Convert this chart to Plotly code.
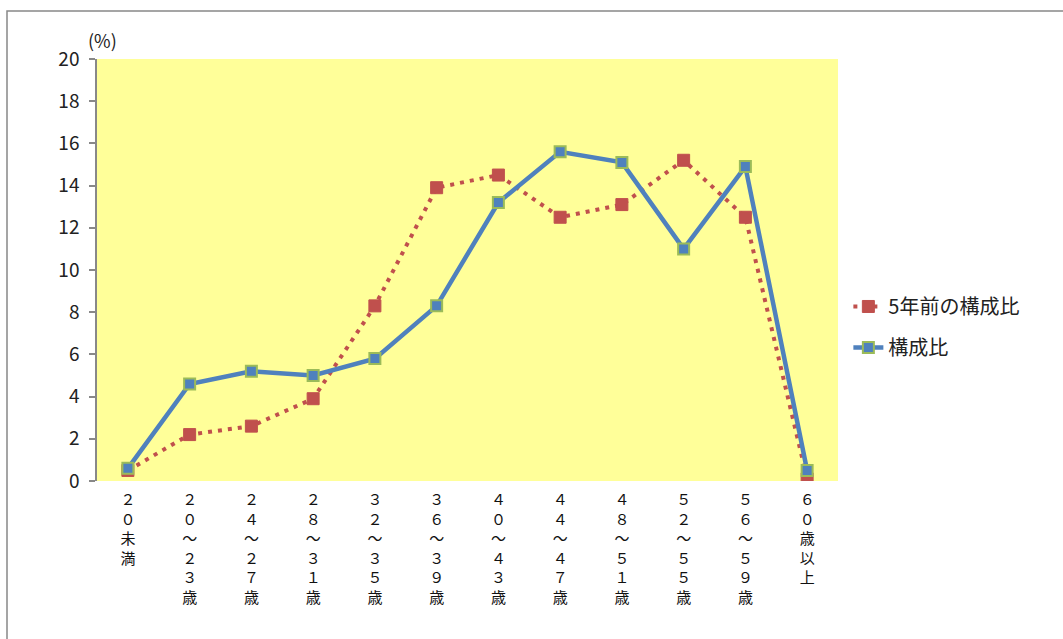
import plotly.graph_objects as go

categories = ["２０未満", "２０～２３歳", "２４～２７歳", "２８～３１歳", "３２～３５歳", "３６～３９歳",
              "４０～４３歳", "４４～４７歳", "４８～５１歳", "５２～５５歳", "５６～５９歳", "６０歳以上"]
prev_ratio = [0.5, 2.2, 2.6, 3.9, 8.3, 13.9, 14.5, 12.5, 13.1, 15.2, 12.5, 0.1]
curr_ratio = [0.6, 4.6, 5.2, 5.0, 5.8, 8.3, 13.2, 15.6, 15.1, 11.0, 14.9, 0.5]
tick_labels = ["<br>".join(list(c)) for c in categories]

FONT = "Noto Sans CJK JP"

fig = go.Figure()
fig.add_trace(go.Scatter(
    x=categories, y=prev_ratio, name="5年前の構成比", mode="lines+markers", legendgroup="a",
    line=dict(color="#C0504D", width=4, dash="4px,6px"),
    marker=dict(symbol="square", size=12, color="#C0504D", line=dict(color="#C0504D", width=1)),
))
fig.add_trace(go.Scatter(
    x=categories, y=curr_ratio, name="構成比", mode="lines+markers", legendgroup="b",
    line=dict(color="#4F81BD", width=4.5),
    marker=dict(symbol="square", size=11, color="#4F81BD", line=dict(color="#9BBB59", width=2)),
))

fig.update_layout(
    width=1063, height=639,
    margin=dict(l=97, r=225, t=59, b=158),
    paper_bgcolor="white",
    plot_bgcolor="#FFFF99",
    font=dict(family=FONT, size=17, color="#222"),
    showlegend=True,
    legend=dict(x=1.014, y=0.365, xanchor="left", yanchor="middle",
                font=dict(family=FONT, size=20, color="#222"),
                tracegroupgap=12, bgcolor="rgba(0,0,0,0)"),
    xaxis=dict(type="category", tickmode="array", tickvals=categories, ticktext=tick_labels,
               showgrid=False, zeroline=False, showline=False, ticks="", automargin=False,
               ticklabelstandoff=8,
               tickfont=dict(family=FONT, size=15, color="#111"), range=[-0.5, 11.5]),
    yaxis=dict(range=[0, 20], dtick=2, showgrid=False, zeroline=False, automargin=False,
               showline=True, linecolor="#888", linewidth=1.5,
               ticks="outside", ticklen=6, tickcolor="#888", tickwidth=1.5,
               ticklabelstandoff=6,
               tickfont=dict(family=FONT, size=19, color="#222")),
    annotations=[dict(text="(%)", xref="paper", yref="paper", x=0.008, y=1.045,
                      showarrow=False, xanchor="center", yanchor="middle",
                      font=dict(family=FONT, size=18, color="#222"))],
    shapes=[dict(type="rect", xref="paper", yref="paper",
                 x0=(7 - 97) / 741, x1=1.5, y0=-0.5, y1=(481 - 11) / 422,
                 line=dict(color="#888", width=1.5), fillcolor="rgba(0,0,0,0)", layer="below")],
)

fig.write_html("out.html", config={"displayModeBar": False},
               post_script="document.body.style.margin='0';document.body.style.overflow='hidden';")
